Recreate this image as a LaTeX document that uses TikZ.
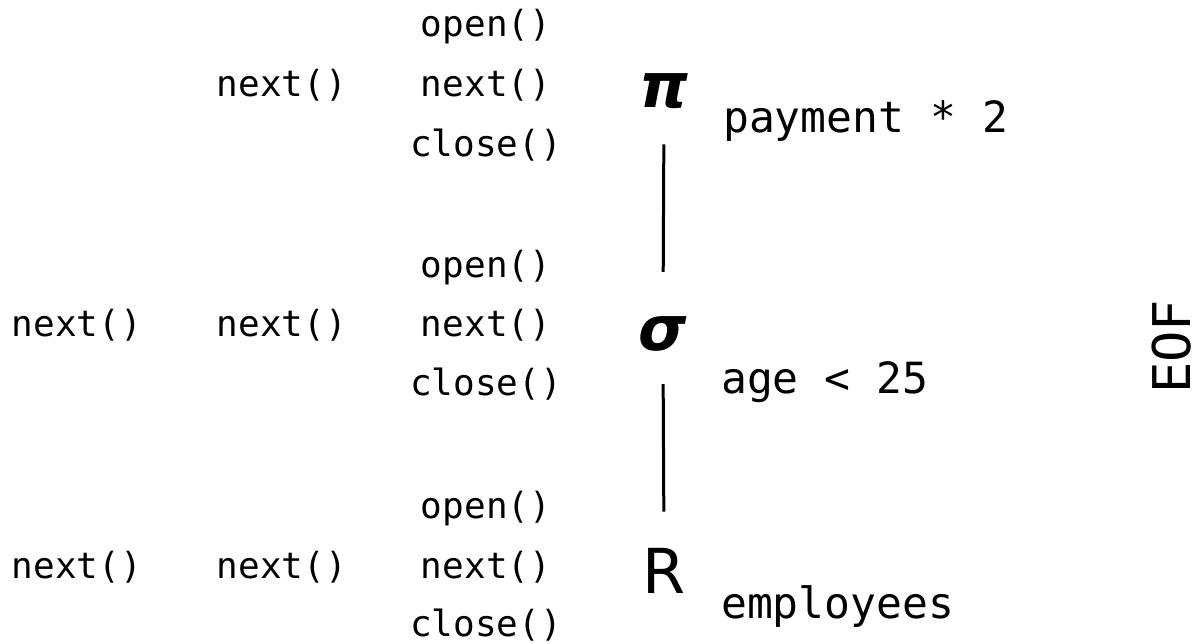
\documentclass[tikz,border=0pt]{standalone}
\usepackage{fontspec}
\setmonofont{DejaVu Sans Mono}
\newfontfamily\symfont{DejaVu Sans}
\tikzset{
  call/.style={inner sep=0pt, anchor=base, font=\ttfamily\fontsize{36}{36}\selectfont},
  pred/.style={inner sep=0pt, anchor=base west, font=\ttfamily\fontsize{43}{43}\selectfont},
  op/.style={inner sep=0pt, anchor=base, font=\symfont\fontsize{62}{62}\selectfont},
  greek/.style={op, font=\symfont\bfseries\itshape\fontsize{62}{62}\selectfont},
  link/.style={line width=3pt, black}
}
\begin{document}
\begin{tikzpicture}[x=1pt,y=-1pt]
\useasboundingbox (0,0) rectangle (1204,644);
% top row
\node[call] (o1) at (486,37) {open()};
\node[call] (n1) at (486,97) {next()};
\node[call] (c1) at (486,157) {close()};
\node[call] (m1) at (282,97) {next()};
% middle row
\node[call] (o2) at (486,277) {open()};
\node[call] (n2) at (486,336) {next()};
\node[call] (c2) at (486,395) {close()};
\node[call] (m2) at (282,336) {next()};
\node[call] (l2) at (77,336) {next()};
% bottom row
\node[call] (o3) at (486,518) {open()};
\node[call] (n3) at (486,578) {next()};
\node[call] (c3) at (486,636) {close()};
\node[call] (m3) at (282,578) {next()};
\node[call] (l3) at (77,578) {next()};
% operators
\node[greek] (pi) at (664,108) {π};
\node[greek] (sigma) at (663,350) {σ};
\node[op] (rel) at (664,593) {R};
% predicates
\node[pred] (p1) at (723,133) {payment * 2};
\node[pred] (p2) at (721,393) {age < 25};
\node[pred] (p3) at (721,618) {employees};
% EOF
\node[inner sep=0pt, rotate=90, font=\ttfamily\fontsize{52}{52}\selectfont] (eof) at (1172,347) {EOF};
% connectors
\draw[link, shorten <=35pt, shorten >=44pt] (pi.south) -- (sigma.north);
\draw[link, shorten <=33pt, shorten >=36pt] (sigma.south) -- (rel.north);
\end{tikzpicture}
\end{document}
